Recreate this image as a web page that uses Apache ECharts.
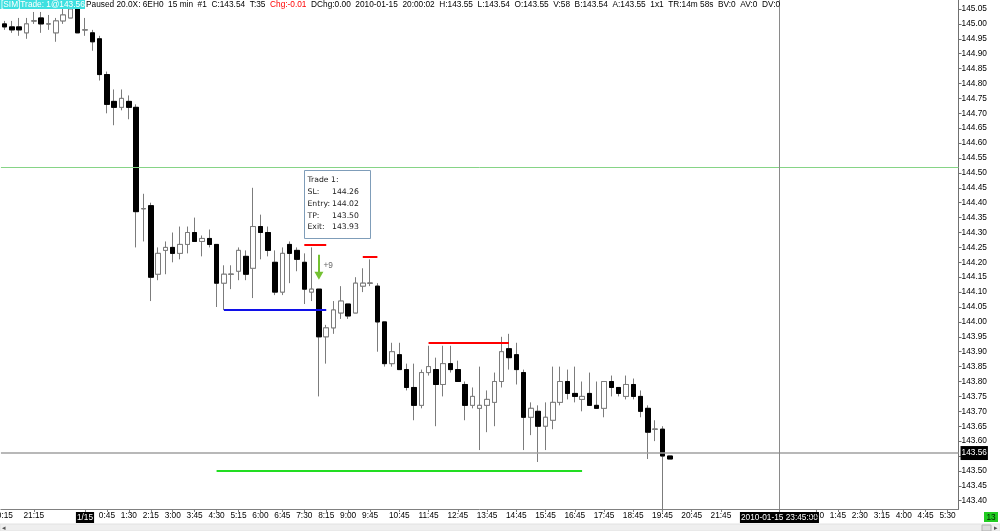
<!DOCTYPE html>
<html>
<head>
<meta charset="utf-8">
<script src="https://cdn.jsdelivr.net/npm/echarts@6.0.0/dist/echarts.min.js"></script>
<style>
html,body{margin:0;padding:0;background:#fff;}
#chart{width:1000px;height:531px;}
</style>
</head>
<body>
<div id="chart"></div>
<script>
// ---- data (bars k = -11 .. 80, 15-min bars, k = 0 is 1/15 0:00) ----
const opens = [
145.00,144.99,144.99,144.97,145.01,145.02,145.00,144.97,145.01,145.02,145.06,
144.98,144.97,144.95,144.83,144.74,144.72,144.74,144.72,144.38,144.39,
144.16,144.24,144.25,144.23,144.26,144.30,144.27,144.28,144.26,144.13,
144.16,144.17,144.22,144.18,144.32,144.30,144.20,144.10,144.26,144.24,
144.20,144.10,144.11,143.95,143.98,144.03,144.06,144.03,144.12,144.13,
144.12,144.00,143.86,143.89,143.84,143.78,143.72,143.83,143.84,143.79,
143.86,143.84,143.79,143.72,143.71,143.72,143.73,143.80,143.91,143.89,
143.83,143.68,143.70,143.65,143.67,143.73,143.80,143.76,143.74,143.76,
143.72,143.71,143.80,143.78,143.75,143.79,143.75,143.71,143.64,143.64,143.55];
const closes = [
144.99,144.98,144.98,145.00,145.01,145.00,145.00,145.01,145.03,145.05,144.97,
144.98,144.94,144.83,144.73,144.72,144.75,144.72,144.37,144.38,144.15,
144.23,144.25,144.23,144.26,144.30,144.27,144.28,144.26,144.13,144.16,
144.16,144.24,144.16,144.32,144.30,144.24,144.10,144.23,144.23,144.21,
144.11,144.11,143.95,143.98,144.04,144.07,144.02,144.13,144.13,144.13,
144.00,143.86,143.90,143.84,143.78,143.72,143.83,143.85,143.79,143.86,
143.84,143.80,143.72,143.75,143.72,143.74,143.80,143.90,143.88,143.84,
143.68,143.71,143.65,143.68,143.73,143.80,143.76,143.75,143.75,143.72,
143.71,143.80,143.78,143.76,143.79,143.75,143.70,143.63,143.64,143.55,143.54];
const lows = [
144.98,144.97,144.96,144.95,145.00,144.97,144.98,144.94,145.00,145.02,144.97,
144.96,144.91,144.81,144.70,144.66,144.71,144.68,144.25,144.27,144.07,
144.14,144.16,144.20,144.21,144.23,144.27,144.22,144.25,144.05,144.04,
144.11,144.14,144.14,144.08,144.21,144.22,144.09,144.09,144.13,144.17,
144.06,144.07,143.75,143.86,143.96,144.01,144.01,144.03,144.10,144.12,
143.90,143.85,143.85,143.84,143.77,143.67,143.71,143.82,143.65,143.75,
143.83,143.80,143.67,143.71,143.57,143.63,143.65,143.78,143.84,143.79,
143.57,143.62,143.53,143.57,143.64,143.72,143.74,143.73,143.70,143.72,
143.71,143.68,143.75,143.75,143.74,143.74,143.68,143.54,143.60,143.36,143.54];
const highs = [
145.01,145.01,145.02,145.02,145.04,145.04,145.03,145.02,145.05,145.06,145.08,
145.02,144.98,144.96,144.84,144.78,144.78,144.76,144.73,144.43,144.40,
144.25,144.27,144.30,144.32,144.32,144.35,144.29,144.31,144.26,144.19,
144.19,144.25,144.24,144.45,144.36,144.32,144.24,144.25,144.27,144.25,
144.23,144.25,144.11,143.99,144.07,144.12,144.06,144.15,144.18,144.21,
144.13,144.00,143.93,143.93,143.86,143.86,143.84,143.92,143.88,143.92,
143.92,143.87,143.80,143.78,143.85,143.77,143.83,143.95,143.96,143.93,
143.84,143.73,143.72,143.73,143.85,143.85,143.84,143.85,143.80,143.83,
143.80,143.80,143.82,143.78,143.82,143.81,143.77,143.72,143.67,143.65,143.55];

const nCategories = 131;      // time slots on the axis (k = -11 .. 119)
const firstBarSlot = 0;       // slot of the first candle (k = -11)

const yTickValues = [143.40,143.45,143.50,143.55,143.60,143.65,143.70,143.75,143.80,143.85,
  143.90,143.95,144.00,144.05,144.10,144.15,144.20,144.25,144.30,144.35,144.40,144.45,144.50,
  144.55,144.60,144.65,144.70,144.75,144.80,144.85,144.90,144.95,145.00,145.05];

// tick labels: slot -> text ("20:15" sits at the left edge, drawn slightly shifted and cut)
const xTickSlots = [0,4,11,14,17,20,23,26,29,32,35,38,41,44,47,50,54,58,62,66,70,74,78,82,86,90,94,98,106,111,114,117,120,123,126,129];
const xTickTexts = ['20:15','21:15','1/15','0:45','1:30','2:15','3:00','3:45','4:30','5:15','6:00','6:45','7:30','8:15','9:00','9:45',
  '10:45','11:45','12:45','13:45','14:45','15:45','16:45','17:45','18:45','19:45','20:45','21:45','2010-01-15 23:45:00',
  '1:00','1:45','2:30','3:15','4:00','4:45','5:30'];
const boxedTickTexts = ['1/15','2010-01-15 23:45:00'];
const shiftedTickTexts = ['20:15'];

// levels
const upperLevel = 144.52;
const lastPrice = 143.56;
const crossSlot = 106;
const swingLow = 144.04, swingLowFrom = 30, swingLowTo = 44;
const stopLoss = 144.26, stopFrom = 41, stopTo = 44;
const highMark = 144.22, highFrom = 49, highTo = 51;
const exitLevel = 143.93, exitFrom = 58, exitTo = 69;
const takeProfit = 143.50, tpFrom = 29, tpTo = 79;
const arrowSlot = 43, arrowTop = 144.225, arrowBottom = 144.155;
const tradeBoxAnchor = [41, 144.51];
const plusAnchor = [43, 144.19];

// ---- build ----
const categories = [];
for (let i = 0; i < nCategories; i++) categories.push('s' + i);
const tickMap = {};
xTickSlots.forEach((s, i) => tickMap[s] = xTickTexts[i]);

const wickData = opens.map((o, i) => [firstBarSlot + i, o, closes[i], lows[i], highs[i]]);
const bodyData = opens.map((o, i) => [firstBarSlot + i, o, closes[i], Math.min(o, closes[i]), Math.max(o, closes[i])]);

const FONT = '"Liberation Sans", Arial, sans-serif';
const FS = 8.3;
const chart = echarts.init(document.getElementById('chart'), null, {renderer: 'canvas', width: 1000, height: 531});

const redLine = {color: '#ff0000', width: 2, type: 'solid'};
const option = {
  animation: false,
  backgroundColor: '#ffffff',
  textStyle: {fontFamily: FONT},
  grid: {left: 0.935, right: 41.455, top: 0, bottom: 22, containLabel: false, outerBoundsMode: 'none'},
  xAxis: {
    type: 'category', data: categories, boundaryGap: true,
    axisLine: {show: true, lineStyle: {color: '#808080', width: 1}},
    axisTick: {show: true, alignWithLabel: true, length: 3,
      interval: (idx) => tickMap[idx] !== undefined && !shiftedTickTexts.includes(tickMap[idx]), lineStyle: {color: '#808080'}},
    axisLabel: {
      interval: 0, margin: 3, fontSize: FS, color: '#000', fontFamily: FONT,
      formatter: (v, idx) => {
        const t = tickMap[idx];
        if (t === undefined) return '';
        if (boxedTickTexts.includes(t)) return '{box|' + t + '}';
        if (shiftedTickTexts.includes(t)) return '{cut|' + t + '}';
        return t;
      },
      rich: {
        box: {backgroundColor: '#000', color: '#fff', fontSize: FS, fontFamily: FONT, padding: [2, 1, 1, 1]},
        cut: {color: '#000', fontSize: FS, fontFamily: FONT, padding: [0, 4, 0, 0]}
      }
    },
    splitLine: {show: false}
  },
  yAxis: {
    type: 'value', position: 'right', min: 143.3722, max: 145.0802, scale: true,
    axisLine: {show: true, lineStyle: {color: '#707070', width: 1}},
    axisTick: {show: true, length: 3, customValues: yTickValues, lineStyle: {color: '#707070'}},
    axisLabel: {margin: 3, fontSize: FS, color: '#000', fontFamily: FONT, customValues: yTickValues, formatter: v => v.toFixed(2)},
    splitLine: {show: false}
  },
  series: [
    {
      type: 'candlestick', name: 'wicks', data: wickData, encode: {x: 0, y: [1, 2, 3, 4]},
      barWidth: 5, silent: true, clip: true, z: 2,
      itemStyle: {color: '#ffffff', color0: '#000000', borderColor: '#7c7c7c', borderColor0: '#7c7c7c', borderColorDoji: '#7c7c7c', borderWidth: 1},
      emphasis: {disabled: true}
    },
    {
      type: 'candlestick', name: 'bodies', data: bodyData, encode: {x: 0, y: [1, 2, 3, 4]},
      barWidth: 5, silent: true, clip: true, z: 3,
      itemStyle: {color: '#ffffff', color0: '#000000', borderColor: '#7c7c7c', borderColor0: '#000000', borderColorDoji: '#7c7c7c', borderWidth: 1},
      emphasis: {disabled: true},
      markLine: {
        silent: true, symbol: 'none', animation: false, precision: 2,
        label: {show: false},
        emphasis: {disabled: true},
        data: [
          {yAxis: upperLevel, lineStyle: {color: '#86d486', width: 1, type: 'solid'}},
          {yAxis: lastPrice, lineStyle: {color: '#a0a0a0', width: 1.5, type: 'solid'},
            label: {show: true, position: 'end', distance: 2, formatter: '143.56', backgroundColor: '#000', color: '#fff',
              fontSize: FS, fontFamily: FONT, padding: [3, 1, 3, 1]}},
          {xAxis: crossSlot, lineStyle: {color: '#8a8a8a', width: 1, type: 'solid'}},
          [{coord: [swingLowFrom, swingLow]}, {coord: [swingLowTo, swingLow], lineStyle: {color: '#1010e8', width: 2, type: 'solid'}}],
          [{coord: [stopFrom, stopLoss]}, {coord: [stopTo, stopLoss], lineStyle: redLine}],
          [{coord: [highFrom, highMark]}, {coord: [highTo, highMark], lineStyle: redLine}],
          [{coord: [exitFrom, exitLevel]}, {coord: [exitTo, exitLevel], lineStyle: redLine}],
          [{coord: [tpFrom, takeProfit]}, {coord: [tpTo, takeProfit], lineStyle: {color: '#22dd22', width: 2, type: 'solid'}}],
          [{coord: [arrowSlot, arrowTop], symbol: 'none'},
           {coord: [arrowSlot, arrowBottom], symbol: 'triangle', symbolSize: [9, 8], symbolRotate: 180,
            lineStyle: {color: '#74c132', width: 2, type: 'solid'}, itemStyle: {color: '#74c132'}}]
        ]
      }
    }
  ]
};
chart.setOption(option);

const tb = chart.convertToPixel({xAxisIndex: 0, yAxisIndex: 0}, tradeBoxAnchor);
const pl = chart.convertToPixel({xAxisIndex: 0, yAxisIndex: 0}, plusAnchor);
const boxFont = '"DejaVu Sans", sans-serif';
const tradeLines = [['Trade 1:', ''], ['SL:', '144.26'], ['Entry:', '144.02'], ['TP:', '143.50'], ['Exit:', '143.93']];
const tradeChildren = [{type: 'rect', shape: {x: 0, y: 0, width: 66, height: 68}, style: {fill: '#fff', stroke: '#7f9db9', lineWidth: 1}}];
tradeLines.forEach((ln, i) => {
  tradeChildren.push({type: 'text', style: {text: ln[0], x: 3, y: 10 + i * 11.7, fill: '#222', fontSize: 7.7, fontFamily: boxFont, verticalAlign: 'middle'}});
  if (ln[1]) tradeChildren.push({type: 'text', style: {text: ln[1], x: 27.5, y: 10 + i * 11.7, fill: '#222', fontSize: 7.7, fontFamily: boxFont, verticalAlign: 'middle'}});
});

const headerText = '{n|Paused 20.0X: 6EH0  15 min  #1  C:143.54  T:35  }{r|Chg:-0.01}{n|  DChg:0.00  2010-01-15  20:00:02  H:143.55  L:143.54  O:143.55  V:58  B:143.54  A:143.55  1x1  TR:14m 58s  BV:0  AV:0  DV:0}';

chart.setOption({
  graphic: [
    {type: 'group', x: Math.round(tb[0]) + 0.5, y: Math.round(tb[1]) + 0.5, z: 50, children: tradeChildren},
    {type: 'text', z: 50, style: {text: '+9', x: pl[0] + 4.5, y: pl[1], fill: '#666', fontSize: FS, fontFamily: FONT, verticalAlign: 'middle'}},
    {type: 'rect', z: 60, shape: {x: 0, y: 0, width: 85, height: 9}, style: {fill: '#3fe0e0'}},
    {type: 'text', z: 61, style: {text: '[SIM]Trade: 1@143.56', x: 1, y: 5, fill: '#fff', fontSize: FS, fontFamily: FONT, verticalAlign: 'middle'}},
    {type: 'text', z: 61, style: {text: headerText, x: 86, y: 5, fontSize: FS, fontFamily: FONT, verticalAlign: 'middle',
      rich: {n: {fill: '#000', fontSize: FS, fontFamily: FONT}, r: {fill: '#ff0000', fontSize: FS, fontFamily: FONT}}}},
    {type: 'rect', z: 60, shape: {x: 0, y: 524, width: 1000, height: 7}, style: {fill: '#efefef', stroke: '#e2e2e2', lineWidth: 1}},
    {type: 'text', z: 61, style: {text: '◂', x: 2, y: 528, fill: '#555', fontSize: 7, verticalAlign: 'middle'}},
    {type: 'rect', z: 61, shape: {x: 982, y: 525, width: 9, height: 6}, style: {fill: '#dcdcdc', stroke: '#b0b0b0', lineWidth: 1}},
    {type: 'text', z: 61, style: {text: '▸', x: 994, y: 528, fill: '#555', fontSize: 7, verticalAlign: 'middle'}},
    {type: 'rect', z: 60, shape: {x: 984, y: 512, width: 14, height: 10}, style: {fill: '#22cc22'}},
    {type: 'text', z: 61, style: {text: '13', x: 991, y: 517.5, fill: '#002200', fontSize: FS, fontFamily: FONT, align: 'center', verticalAlign: 'middle'}}
  ]
});
</script>
</body>
</html>
